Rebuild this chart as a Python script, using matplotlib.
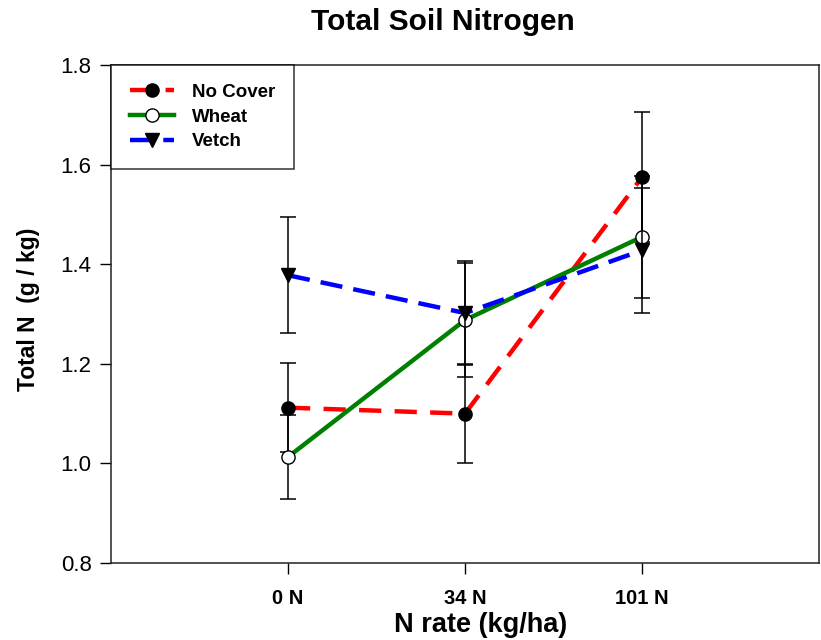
import numpy as np
import matplotlib
matplotlib.use('Agg')
from matplotlib import pyplot as plt

rates = ['0 N', '34 N', '101 N']
x_pos = [1, 2, 3]

no_cover = [1.112, 1.100, 1.575]
no_cover_err = [0.09, 0.10, 0.13]
wheat = [1.013, 1.288, 1.455]
wheat_err = [0.084, 0.115, 0.123]
vetch = [1.378, 1.302, 1.428]
vetch_err = [0.116, 0.105, 0.126]

y_ticks = [0.8, 1.0, 1.2, 1.4, 1.6, 1.8]

plt.rcParams['font.family'] = ['Liberation Sans', 'DejaVu Sans']

fig = plt.figure(figsize=(8.21, 6.4), dpi=100)
ax = fig.add_axes([0.1352, 0.1203, 0.8624, 0.778])

series = [
    ('No Cover', no_cover, no_cover_err, 'red', (0, (5, 3)), 'o', 'black'),
    ('Wheat', wheat, wheat_err, 'green', '-', 'o', 'white'),
    ('Vetch', vetch, vetch_err, 'blue', (0, (5, 2.5)), 'v', 'black'),
]
for k, (name, y, err, col, ls, mk, fc) in enumerate(series):
    ax.plot(x_pos, y, color=col, lw=3.2, ls=ls, zorder=2 + k)
    ax.errorbar(x_pos, y, yerr=err, fmt='none', ecolor='black',
                elinewidth=1.1, capsize=6, capthick=1.1, zorder=2.5 + k)
    ax.plot(x_pos, y, ls='none', marker=mk, ms=9.5, mfc=fc, mec='black',
            mew=1.0, zorder=2.6 + k)
    # proxy artist for the legend entry
    ax.plot([], [], color=col, lw=3.2, ls=ls, marker=mk, ms=9.5, mfc=fc,
            mec='black', mew=1.0, label=name)

ax.set_xlim(0, 4)
ax.set_ylim(0.8, 1.8)
ax.set_xticks(x_pos)
ax.set_xticklabels(rates, fontsize=14.5, fontweight='bold')
ax.set_yticks(y_ticks)
ax.set_yticklabels(['%.1f' % v for v in y_ticks], fontsize=16)
ax.tick_params(direction='out', length=8, width=1)
ax.tick_params(axis='x', pad=11)
ax.tick_params(axis='y', pad=6)
for s in ax.spines.values():
    s.set_linewidth(1.1)
    s.set_color('#222222')

leg = ax.legend(loc='upper left', frameon=True, fancybox=False,
                borderaxespad=0, handlelength=2.35,
                prop={'weight': 'bold', 'size': 13.5}, borderpad=1.0,
                labelspacing=0.4, handletextpad=0.95)
leg.get_frame().set_edgecolor('black')
leg.get_frame().set_linewidth(1.1)

fig.text(0.539, 0.965, 'Total Soil Nitrogen', ha='center', va='center',
         fontsize=21.5, fontweight='bold')
fig.text(0.586, 0.024, 'N rate (kg/ha)', ha='center', va='center',
         fontsize=19.5, fontweight='bold')
fig.text(0.035, 0.516, 'Total N  (g / kg)', ha='center', va='center',
         rotation=90, fontsize=16.5, fontweight='bold')

fig.savefig('out.png', dpi=100)
